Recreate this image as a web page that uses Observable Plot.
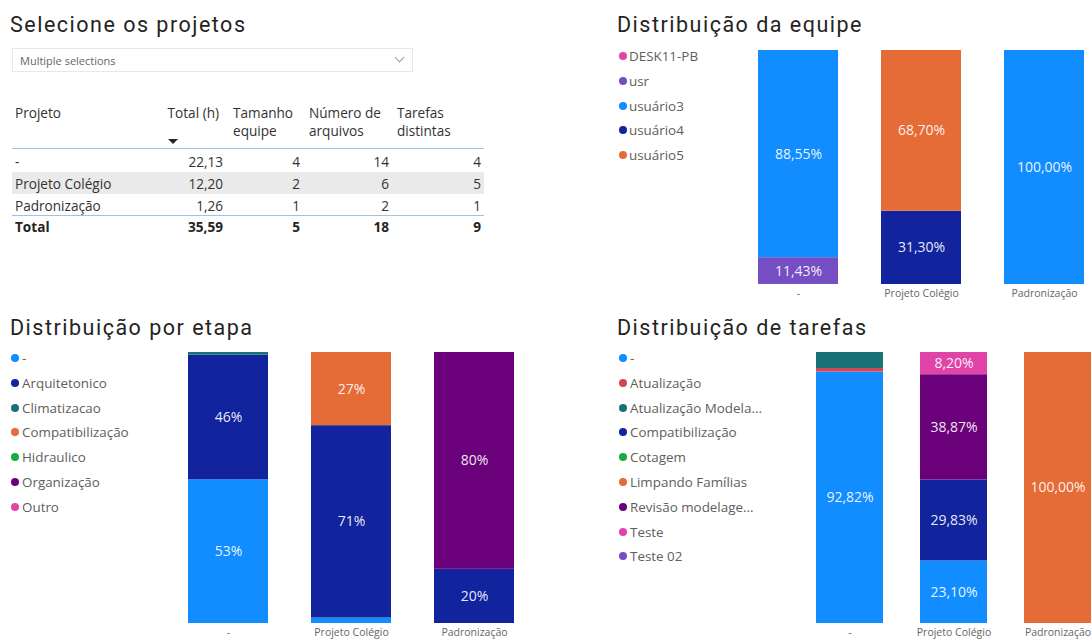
<!DOCTYPE html>
<html>
<head>
<meta charset="utf-8">
<script src="https://cdn.jsdelivr.net/npm/d3@7"></script>
<script src="https://cdn.jsdelivr.net/npm/@observablehq/plot@0.6"></script>
<style>
  html, body { margin: 0; padding: 0; background: #fff; }
  body { width: 1092px; height: 639px; position: relative; overflow: hidden; font-family: "Open Sans", sans-serif; }
  .abs { position: absolute; white-space: nowrap; }
  .title { font-family: Roboto, sans-serif; font-size: 21.5px; letter-spacing: 1.5px; color: #252423; line-height: 1; }
  .cell { position: absolute; font-size: 13.6px; color: #333; line-height: 17px; white-space: nowrap; transform: translateY(-50%); }
  .legend { position: absolute; font-size: 13.4px; color: #605E5C; line-height: 17px; white-space: nowrap; transform: translateY(-50%); }
  .dot { position: absolute; width: 8px; height: 8px; border-radius: 50%; transform: translate(-50%, -50%); }
  .chart { position: absolute; }
</style>
</head>
<body>
<script>
// ---------- data ----------
const projects = ["-", "Projeto Colégio", "Padronização"];

// table
const tableProjects = ["-", "Projeto Colégio", "Padronização"];
const totalHours = [22.13, 12.20, 1.26];
const teamSize = [4, 2, 1];
const fileCount = [14, 6, 2];
const distinctTasks = [4, 5, 1];
const totalsRow = ["Total", 35.59, 5, 18, 9];

// Distribuição da equipe
const equipeSeries = ["DESK11-PB", "usr", "usuário3", "usuário4", "usuário5"];
const equipeColors = ["#E044A7", "#744EC2", "#118DFF", "#12239E", "#E66C37"];
const equipeProject = ["-", "-", "-", "Projeto Colégio", "Projeto Colégio", "Padronização"];
const equipeMember = ["DESK11-PB", "usr", "usuário3", "usuário4", "usuário5", "usuário3"];
const equipeValue = [0.02, 11.43, 88.55, 31.30, 68.70, 100.00];

// Distribuição por etapa
const etapaSeries = ["-", "Arquitetonico", "Climatizacao", "Compatibilização", "Hidraulico", "Organização", "Outro"];
const etapaColors = ["#118DFF", "#12239E", "#197278", "#E66C37", "#1AAB40", "#6B007B", "#E044A7"];
const etapaProject = ["-", "-", "-", "Projeto Colégio", "Projeto Colégio", "Projeto Colégio", "Padronização", "Padronização"];
const etapaStage = ["-", "Arquitetonico", "Climatizacao", "-", "Arquitetonico", "Compatibilização", "Arquitetonico", "Organização"];
const etapaValue = [53, 46, 1, 2, 71, 27, 20, 80];

// Distribuição de tarefas
const tarefaSeries = ["-", "Atualização", "Atualização Modela...", "Compatibilização", "Cotagem", "Limpando Famílias", "Revisão modelage...", "Teste", "Teste 02"];
const tarefaColors = ["#118DFF", "#D64550", "#197278", "#12239E", "#1AAB40", "#E66C37", "#6B007B", "#E044A7", "#744EC2"];
const tarefaProject = ["-", "-", "-", "Projeto Colégio", "Projeto Colégio", "Projeto Colégio", "Projeto Colégio", "Padronização"];
const tarefaTask = ["-", "Atualização", "Atualização Modela...", "-", "Compatibilização", "Revisão modelage...", "Teste", "Limpando Famílias"];
const tarefaValue = [92.82, 1.28, 5.90, 23.10, 29.83, 38.87, 8.20, 100.00];

// ---------- helpers ----------
const body = document.body;
function el(tag, cls, style, text) {
  const e = document.createElement(tag);
  if (cls) e.className = cls;
  Object.assign(e.style, style || {});
  if (text != null) e.textContent = text;
  body.appendChild(e);
  return e;
}
const fmt2 = v => v.toFixed(2).replace(".", ",") + "%";
const fmt0 = v => Math.round(v) + "%";

// titles
el("div", "abs title", {left: "10px", top: "14px"}, "Selecione os projetos");
el("div", "abs title", {left: "617px", top: "14px"}, "Distribuição da equipe");
el("div", "abs title", {left: "10px", top: "317px"}, "Distribuição por etapa");
el("div", "abs title", {left: "617px", top: "317px"}, "Distribuição de tarefas");

// slicer
el("div", "abs", {left: "12px", top: "48px", width: "401px", height: "24px", border: "1px solid #e8e8e8", boxSizing: "border-box", background: "#fff"});
el("div", "abs", {left: "20px", top: "53px", fontSize: "11px", color: "#666", lineHeight: "16px"}, "Multiple selections");
el("div", "abs", {left: "396px", top: "54px", width: "6px", height: "6px", borderRight: "1px solid #999", borderBottom: "1px solid #999", transform: "rotate(45deg)"});

// table
el("div", "abs", {left: "12px", top: "172px", width: "472px", height: "22px", background: "#eaeaea"});
el("div", "abs", {left: "12px", top: "148px", width: "472px", height: "1px", background: "#9ec3e6"});
el("div", "abs", {left: "12px", top: "215px", width: "472px", height: "1px", background: "#9ec3e6"});
function cellL(x, y, t, extra) { el("div", "cell", Object.assign({left: x + "px", top: y + "px"}, extra || {}), t); }
function cellR(x, y, t, extra) { el("div", "cell", Object.assign({right: (1092 - x) + "px", top: y + "px", textAlign: "right"}, extra || {}), t); }
cellL(15, 112, "Projeto");
cellR(219, 112, "Total (h)");
cellL(233, 112, "Tamanho"); cellL(233, 130, "equipe");
cellL(309, 112, "Número de"); cellL(309, 130, "arquivos");
cellL(397, 112, "Tarefas"); cellL(397, 130, "distintas");
el("div", "abs", {left: "168px", top: "139px", width: "0", height: "0", borderLeft: "5px solid transparent", borderRight: "5px solid transparent", borderTop: "5px solid #252423"});
const rowY = [161, 183, 205];
const num2 = v => v.toFixed(2).replace(".", ",");
tableProjects.forEach((p, i) => {
  cellL(15, rowY[i], p);
  cellR(223, rowY[i], num2(totalHours[i]));
  cellR(300, rowY[i], String(teamSize[i]));
  cellR(389, rowY[i], String(fileCount[i]));
  cellR(481, rowY[i], String(distinctTasks[i]));
});
const bold = {fontWeight: "700", color: "#252423"};
cellL(15, 226, totalsRow[0], bold);
cellR(223, 226, num2(totalsRow[1]), bold);
cellR(300, 226, String(totalsRow[2]), bold);
cellR(389, 226, String(totalsRow[3]), bold);
cellR(481, 226, String(totalsRow[4]), bold);

// legends
function legend(series, colors, dotX, textX, y0, step) {
  series.forEach((s, i) => {
    const y = y0 + i * step;
    el("div", "dot", {left: dotX + "px", top: y + "px", background: colors[i]});
    el("div", "legend", {left: textX + "px", top: (y) + "px"}, s);
  });
}
legend(equipeSeries, equipeColors, 623, 629, 56, 24.75);
legend(etapaSeries, etapaColors, 15, 22, 358, 24.8);
legend(tarefaSeries, tarefaColors, 623, 630, 358, 24.8);

// charts
function stackChart(opts) {
  const data = opts.project.map((p, i) => ({project: p, series: opts.series[i], value: opts.value[i]}));
  const svg = Plot.plot({
    width: opts.width, height: opts.height,
    marginLeft: opts.mL, marginRight: opts.mR, marginTop: opts.mT, marginBottom: opts.mB,
    x: {domain: projects, paddingInner: opts.pi, paddingOuter: 0, label: null, tickSize: 0, tickPadding: 5},
    y: {domain: [0, 100], axis: null},
    color: {domain: opts.domain, range: opts.colors},
    style: {fontFamily: "Open Sans, sans-serif", fontSize: "10.5px", color: "#666", background: "transparent", overflow: "visible"},
    marks: [
      Plot.barY(data, {x: "project", y: "value", fill: "series", order: opts.domain}),
      Plot.text(data, Plot.stackY({
        x: "project", y: "value", z: "series", order: opts.domain,
        text: d => d.value >= 7 ? opts.fmt(d.value) : "",
        fill: "white", fillOpacity: 0.92, fontSize: 14
      }))
    ]
  });
  const wrap = el("div", "chart", {left: opts.left + "px", top: opts.top + "px"});
  wrap.appendChild(svg);
}

stackChart({project: equipeProject, series: equipeMember, value: equipeValue,
  domain: equipeSeries, colors: equipeColors, fmt: fmt2,
  left: 740, top: 40, width: 352, height: 270, mL: 17, mR: 8, mT: 10, mB: 26, pi: 0.352});

stackChart({project: etapaProject, series: etapaStage, value: etapaValue,
  domain: etapaSeries, colors: etapaColors, fmt: fmt0,
  left: 170, top: 342, width: 360, height: 297, mL: 18, mR: 16, mT: 10, mB: 16, pi: 0.352});

stackChart({project: tarefaProject, series: tarefaTask, value: tarefaValue,
  domain: tarefaSeries, colors: tarefaColors, fmt: fmt2,
  left: 800, top: 342, width: 292, height: 297, mL: 16, mR: 1, mT: 10, mB: 16, pi: 0.356});
</script>
</body>
</html>
